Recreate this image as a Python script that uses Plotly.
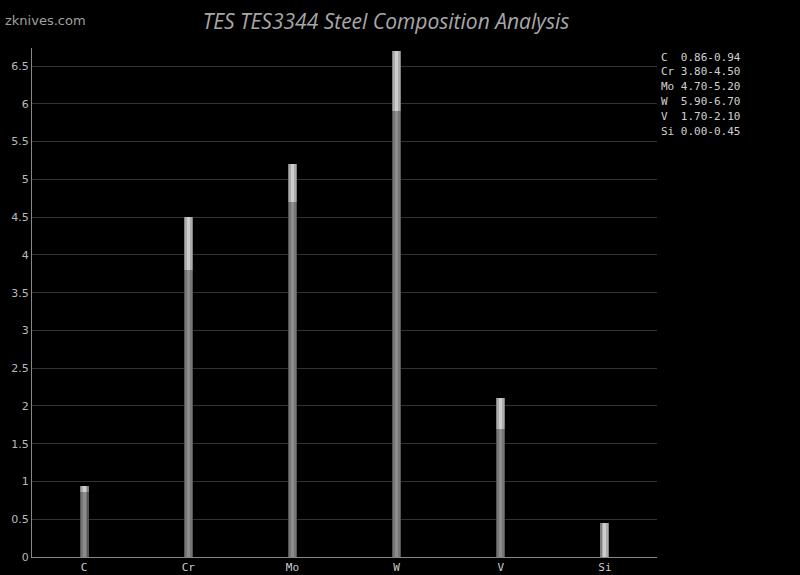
import plotly.graph_objects as go

elements = ["C", "Cr", "Mo", "W", "V", "Si"]
min_vals = [0.86, 3.80, 4.70, 5.90, 1.70, 0.00]
max_vals = [0.94, 4.50, 5.20, 6.70, 2.10, 0.45]
legend_lines = ["C  0.86-0.94", "Cr 3.80-4.50", "Mo 4.70-5.20",
                "W  5.90-6.70", "V  1.70-2.10", "Si 0.00-0.45"]

ranges = [mx - mn for mn, mx in zip(min_vals, max_vals)]
zeros = [0] * len(elements)

# layered widths/colours give the rounded, shaded look of the original bars
low_layers = [(0.085, "#555555"), (0.065, "#767676"), (0.03, "#8c8c8c")]
high_layers = [(0.085, "#808080"), (0.065, "#acacac"), (0.03, "#cdcdcd")]

fig = go.Figure()
for w, c in low_layers:
    fig.add_trace(go.Bar(x=elements, y=min_vals, base=zeros, width=w,
                         marker=dict(color=c, line=dict(width=0)),
                         hoverinfo="skip", showlegend=False))
for w, c in high_layers:
    fig.add_trace(go.Bar(x=elements, y=ranges, base=min_vals, width=w,
                         marker=dict(color=c, line=dict(width=0)),
                         hoverinfo="skip", showlegend=False))

annotations = []
for i, line in enumerate(legend_lines):
    annotations.append(dict(
        xref="paper", yref="paper", x=1.003, y=(557 - 57 - i * 14.8) / 509,
        xanchor="left", yanchor="middle", text=line, showarrow=False,
        font=dict(family="DejaVu Sans Mono", size=11, color="#d0d0d0")))
annotations.append(dict(
    xref="paper", yref="paper", x=(3 - 32) / 625, y=(557 - 20) / 509,
    xanchor="left", yanchor="middle", text="zknives.com", showarrow=False,
    font=dict(family="DejaVu Sans", size=13, color="#a0a0a0")))

fig.update_layout(
    width=800, height=575,
    paper_bgcolor="black", plot_bgcolor="black",
    margin=dict(l=32, r=143, t=48, b=18),
    barmode="overlay",
    bargap=0,
    title=dict(text="<i>TES TES3344 Steel Composition Analysis</i>",
               x=(386 / 800), xanchor="center", y=1 - 22 / 575, yanchor="middle",
               font=dict(family="Open Sans", size=21, color="#a8a8a8")),
    annotations=annotations,
    xaxis=dict(showgrid=False, showline=True, linecolor="#888888", linewidth=1,
               ticks="", automargin=False,
               tickfont=dict(family="DejaVu Sans Mono", size=11, color="#cccccc"),
               fixedrange=True),
    yaxis=dict(range=[0, 6.74], dtick=0.5, showgrid=True, gridcolor="#333333",
               gridwidth=1, zeroline=False, showline=True, linecolor="#888888",
               linewidth=1, ticks="", automargin=False,
               tickfont=dict(family="DejaVu Sans", size=11, color="#bbbbbb"),
               fixedrange=True),
)

fig.write_html("out.html", config={"displayModeBar": False},
               post_script="document.body.style.margin='0';document.body.style.background='black';")
